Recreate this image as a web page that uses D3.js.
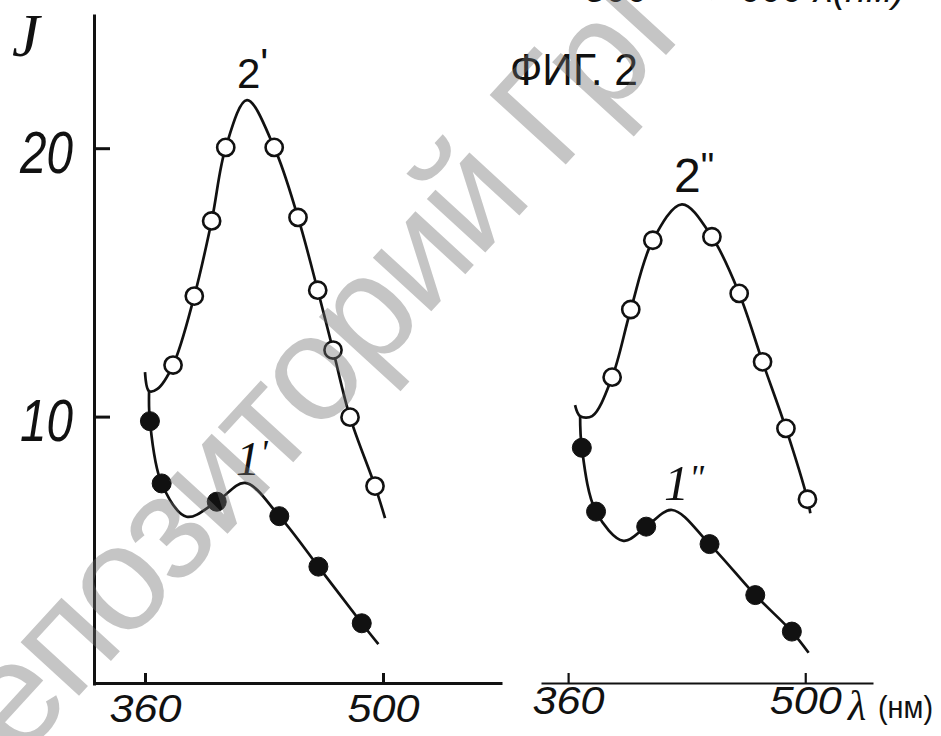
<!DOCTYPE html>
<html>
<head>
<meta charset="utf-8">
<script src="https://cdn.jsdelivr.net/npm/d3@7"></script>
<style>
    html, body { margin: 0; padding: 0; background: #fff; }
    svg { display: block; }
    .axis path, .axis line { stroke: #111; stroke-width: 3; }
    .axis text { fill: #111; font-family: "Liberation Sans", Arial, sans-serif; font-style: italic; }
    .label { fill: #111; }
</style>
</head>
<body>
<svg id="chart" width="941" height="736"></svg>
<script>
// Фиг. 2: intensity J against wavelength λ (nm)
// each row is [λ, J, marker]; marker 1 = measured point, 0 = point on the drawn line only
const wavelengthTicks = [360, 500];
const intensityTicks = [10, 20];

// left panel
const curve2a = [
    [360, 11.66, 0], [362.4, 10.95, 0], [367.1, 11.02, 0], [376.5, 11.92, 1],
    [389, 14.49, 1], [399.2, 17.29, 1], [407.5, 20.03, 1], [420, 21.79, 0],
    [436, 20.03, 1], [450, 17.42, 1], [461.6, 14.71, 1], [470.6, 12.48, 1],
    [480.6, 9.98, 1], [495.3, 7.41, 1], [501.2, 6.22, 0]
];
const curve1a = [
    [362.4, 10.95, 0], [362.9, 9.83, 1], [369.8, 7.51, 1], [384.5, 6.27, 0],
    [402.2, 6.83, 1], [418.8, 7.53, 0], [439, 6.29, 1], [462, 4.41, 1],
    [487.5, 2.30, 1], [497.3, 1.52, 0]
];

// right panel
const curve2b = [
    [364.1, 10.43, 0], [367.1, 10.02, 0], [374.2, 10.02, 0], [386, 11.47, 1],
    [397, 13.99, 1], [410, 16.57, 1], [427.2, 17.91, 0], [444.9, 16.70, 1],
    [461, 14.59, 1], [474.8, 12.04, 1], [488.6, 9.56, 1], [501.3, 6.92, 1],
    [503, 6.4, 0]
];
const curve1b = [
    [367.1, 10.02, 0], [368.1, 8.84, 1], [376.5, 6.46, 1], [392.7, 5.37, 0],
    [406.1, 5.90, 1], [421.3, 6.52, 0], [443.5, 5.25, 1], [470.5, 3.35, 1],
    [492.1, 1.99, 1], [502, 1.20, 0]
];

const svg = d3.select("#chart");
const ink = "#111";

const y = d3.scaleLinear([0, 25], [685, 14]);
const xLeft = d3.scaleLinear([330, 570], [94, 502]);
const xRight = d3.scaleLinear([344, 540], [541, 873]);

function drawCurve(x, data, filled)
{
    const line = d3.line()
        .x(d => x(d[0]))
        .y(d => y(d[1]))
        .curve(d3.curveCatmullRom.alpha(0.5));

    svg.append("path")
        .attr("d", line(data))
        .attr("fill", "none")
        .attr("stroke", ink)
        .attr("stroke-width", 2.7);

    svg.append("g").selectAll("circle")
        .data(data.filter(d => d[2]))
        .join("circle")
        .attr("cx", d => x(d[0]))
        .attr("cy", d => y(d[1]))
        .attr("r", filled ? 9.5 : 8.6)
        .attr("fill", filled ? ink : "#fff")
        .attr("stroke", ink)
        .attr("stroke-width", filled ? 1 : 2.6);
}

function drawXAxis(x, padding, width)
{
    const g = svg.append("g")
        .attr("class", "axis")
        .attr("transform", "translate(0,683)")
        .call(d3.axisBottom(x).tickValues(wavelengthTicks)
            .tickSizeInner(-10).tickSizeOuter(0).tickPadding(padding));
    g.selectAll("path, line").style("stroke-width", width);
    g.selectAll("text")
        .attr("font-size", 39)
        .attr("textLength", 72)
        .attr("lengthAdjust", "spacingAndGlyphs");
    return g;
}

// axes
const yAxis = svg.append("g")
    .attr("class", "axis")
    .attr("transform", "translate(94,0)")
    .call(d3.axisLeft(y).tickValues(intensityTicks)
        .tickSizeInner(-16).tickSizeOuter(0).tickPadding(21));
yAxis.selectAll("text")
    .attr("font-size", 60)
    .attr("dy", "0.4em")
    .attr("textLength", 53)
    .attr("lengthAdjust", "spacingAndGlyphs");

drawXAxis(xLeft, 11, 3);
drawXAxis(xRight, 3, 2.2);

// curves
drawCurve(xLeft, curve2a, false);
drawCurve(xLeft, curve1a, true);
drawCurve(xRight, curve2b, false);
drawCurve(xRight, curve1b, true);

// texts
function label(text, x, yPos, size, family, style)
{
    return svg.append("text")
        .attr("class", "label")
        .attr("x", x)
        .attr("y", yPos)
        .attr("font-size", size)
        .attr("font-family", family)
        .attr("font-style", style || "normal")
        .text(text);
}

const sans = "'Liberation Sans', Arial, sans-serif";
const serif = "'Liberation Serif', 'DejaVu Serif', serif";

label("J", 12, 56, 62, serif, "italic");
label("ФИГ. 2", 510, 85, 44, sans)
    .attr("textLength", 128).attr("lengthAdjust", "spacingAndGlyphs");

label("2", 237, 88, 42, sans).append("tspan").attr("dy", -10).text("'");
label("2", 674, 192, 48, sans).append("tspan").attr("dy", -12).attr("font-size", 38).text("\"");
label("1", 236, 475, 48, serif, "italic").append("tspan").attr("dy", -10).attr("font-size", 36).text("'");
label("1", 664, 500, 50, serif, "italic").append("tspan").attr("dy", -10).attr("font-size", 36).text("\"");

label("λ", 848, 720, 42, serif, "italic");
label("(нм)", 878, 718, 32, sans)
    .attr("textLength", 55).attr("lengthAdjust", "spacingAndGlyphs");

// cut-off labels of the figure above
label("500", 585, 2, 38, sans, "italic");
label("600 λ(нм)", 740, 2, 38, sans, "italic");

// repository watermark
svg.append("text")
    .attr("transform", "translate(-42,828) rotate(-47.5)")
    .attr("font-size", 150)
    .attr("letter-spacing", -4)
    .attr("font-family", sans)
    .attr("fill", "#6e6e6e")
    .attr("fill-opacity", 0.4)
    .text("Репозиторий ГрГУ");
</script>
</body>
</html>
